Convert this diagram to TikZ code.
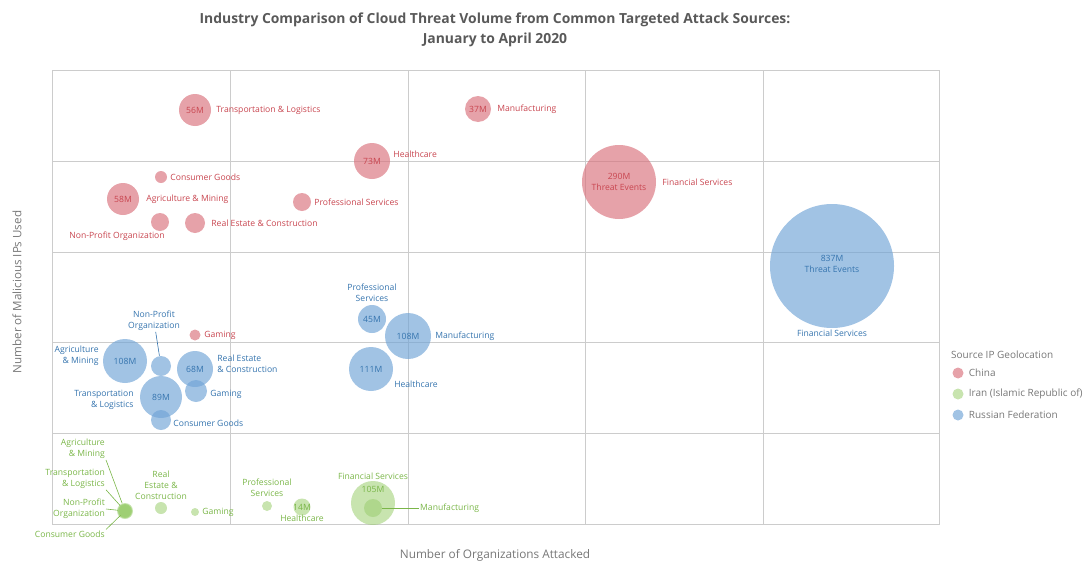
\documentclass[tikz,border=0pt]{standalone}
\usepackage{fontspec}
\setmainfont{Open Sans}
\usetikzlibrary{positioning}

\definecolor{cnfill}{HTML}{D9707B}
\definecolor{cntext}{HTML}{C8454F}
\definecolor{irfill}{HTML}{9ACD6E}
\definecolor{irtext}{HTML}{7AB648}
\definecolor{rufill}{HTML}{6FA3D6}
\definecolor{rutext}{HTML}{3574AE}
\definecolor{gridgray}{HTML}{CCCCCC}
\definecolor{titlegray}{HTML}{595959}
\definecolor{axisgray}{HTML}{777777}

\tikzset{
	bubble/.style={circle, inner sep=0pt, minimum size=#1},
	cnbub/.style={bubble=#1, fill=cnfill, fill opacity=0.65},
	irbub/.style={bubble=#1, fill=irfill, fill opacity=0.55},
	rubub/.style={bubble=#1, fill=rufill, fill opacity=0.65},
	lab/.style={inner sep=1pt, font=\fontsize{8.6}{10.8}\selectfont},
	cnlab/.style={lab, text=cntext, align=left},
	irlab/.style={lab, text=irtext, align=center},
	rulab/.style={lab, text=rutext, align=left},
	leglab/.style={lab, text=axisgray, font=\fontsize{10}{12}\selectfont},
	irline/.style={draw=irtext, line width=0.6pt},
	ruline/.style={draw=rutext, line width=0.6pt},
	gridline/.style={draw=gridgray, line width=0.8pt}
}

\begin{document}
\begin{tikzpicture}[x=1pt, y=-1pt]
	\useasboundingbox (0,0) rectangle (1083,562);

	% title and axes
	\node[font=\fontsize{13.9}{20}\selectfont\bfseries, text=titlegray, align=center] (title) at (495,30)
		{Industry Comparison of Cloud Threat Volume from Common Targeted Attack Sources:\\January to April 2020};
	\node[font=\fontsize{11.8}{14}\selectfont, text=axisgray] (xlab) at (495,555) {Number of Organizations Attacked};
	\node[font=\fontsize{11.6}{14}\selectfont, text=axisgray, rotate=90] (ylab) at (17,292) {Number of Malicious IPs Used};

	% grid
	\draw[gridline] (52,70) rectangle (939,524);
	\draw[gridline] (230,70) -- (230,524);
	\draw[gridline] (408,70) -- (408,524);
	\draw[gridline] (585,70) -- (585,524);
	\draw[gridline] (763,70) -- (763,524);
	\draw[gridline] (52,161) -- (939,161);
	\draw[gridline] (52,252) -- (939,252);
	\draw[gridline] (52,342) -- (939,342);
	\draw[gridline] (52,433) -- (939,433);

	% China
	\node[cnbub=32pt] (cn-trans) at (195,110) {};
	\node[cnbub=26pt] (cn-man) at (478,109) {};
	\node[cnbub=36pt] (cn-hea) at (372,161) {};
	\node[cnbub=12pt] (cn-cons) at (161,177) {};
	\node[cnbub=32pt] (cn-agri) at (123,199) {};
	\node[cnbub=18pt] (cn-prof) at (302,202) {};
	\node[cnbub=18pt] (cn-np) at (160,222) {};
	\node[cnbub=20pt] (cn-re) at (195,223) {};
	\node[cnbub=74pt] (cn-fin) at (619,182) {};
	\node[cnbub=11pt] (cn-gam) at (195,335) {};

	\node[cnlab] at (cn-trans) {56M};
	\node[cnlab] at (cn-man) {37M};
	\node[cnlab] at (cn-hea) {73M};
	\node[cnlab] at (cn-agri) {58M};
	\node[cnlab, align=center] at (cn-fin) {290M\\Threat Events};
	\node[cnlab, right=4pt of cn-trans] (cn-trans-lab) {Transportation \& Logistics};
	\node[cnlab, right=5pt of cn-man] (cn-man-lab) {Manufacturing};
	\node[cnlab, right=2pt of cn-hea, yshift=7pt] (cn-hea-lab) {Healthcare};
	\node[cnlab, right=2pt of cn-cons] (cn-cons-lab) {Consumer Goods};
	\node[cnlab, right=6pt of cn-agri] (cn-agri-lab) {Agriculture \& Mining};
	\node[cnlab, right=2pt of cn-prof] (cn-prof-lab) {Professional Services};
	\node[cnlab] (cn-np-lab) at (117,236) {Non-Profit Organization};
	\node[cnlab, right=5pt of cn-re] (cn-re-lab) {Real Estate \& Construction};
	\node[cnlab, right=5pt of cn-fin] (cn-fin-lab) {Financial Services};
	\node[cnlab, right=2.5pt of cn-gam] (cn-gam-lab) {Gaming};

	% Russian Federation
	\node[rubub=124pt] (ru-fin) at (832,266) {};
	\node[rubub=44pt] (ru-agri) at (125,361) {};
	\node[rubub=20pt] (ru-np) at (161,366) {};
	\node[rubub=36pt] (ru-re) at (195,369) {};
	\node[rubub=22pt] (ru-gam) at (196,391) {};
	\node[rubub=42pt] (ru-trans) at (161,397) {};
	\node[rubub=20pt] (ru-cons) at (161,420) {};
	\node[rubub=28pt] (ru-prof) at (372,319) {};
	\node[rubub=46pt] (ru-man) at (408,336) {};
	\node[rubub=44pt] (ru-hea) at (371,369) {};

	\node[rulab, align=center] at (832,264) {837M\\Threat Events};
	\node[rulab] at (ru-agri) {108M};
	\node[rulab] at (ru-re) {68M};
	\node[rulab] at (ru-trans) {89M};
	\node[rulab] at (ru-prof) {45M};
	\node[rulab] at (ru-man) {108M};
	\node[rulab] at (ru-hea) {111M};
	\node[rulab, below=1pt of ru-fin] (ru-fin-lab) {Financial Services};
	\node[rulab, align=right, left=3pt of ru-agri, yshift=5pt] (ru-agri-lab) {Agriculture\\\& Mining};
	\node[rulab, align=center] (ru-np-lab) at (154,321) {Non-Profit\\Organization};
	\node[rulab, right=3pt of ru-re, yshift=5pt] (ru-re-lab) {Real Estate\\\& Construction};
	\node[rulab, right=2pt of ru-gam, yshift=-3pt] (ru-gam-lab) {Gaming};
	\node[rulab, align=right, left=5pt of ru-trans, yshift=-2.5pt] (ru-trans-lab) {Transportation\\\& Logistics};
	\node[rulab, right=1pt of ru-cons, yshift=-3pt] (ru-cons-lab) {Consumer Goods};
	\node[rulab, align=center, above=2pt of ru-prof] (ru-prof-lab) {Professional\\Services};
	\node[rulab, right=3pt of ru-man] (ru-man-lab) {Manufacturing};
	\node[rulab] (ru-hea-lab) at (416,384) {Healthcare};

	\draw[ruline] (ru-np-lab) -- (ru-np);

	% Iran
	\node[irbub=16pt] (ir-agri) at (125,511) {};
	\node[irbub=14pt] (ir-trans) at (125,511) {};
	\node[irbub=14pt] (ir-np) at (125,511) {};
	\node[irbub=12pt] (ir-cons) at (125,511) {};
	\node[irbub=12pt] (ir-re) at (161,508) {};
	\node[irbub=8pt] (ir-gam) at (195,512) {};
	\node[irbub=10pt] (ir-prof) at (267,506) {};
	\node[irbub=17pt] (ir-hea) at (302,507) {};
	\node[irbub=44pt] (ir-fin) at (373,503) {};
	\node[irbub=18pt] (ir-man) at (373,508) {};

	\node[irlab] at (ir-hea) {14M};
	\node[irlab] at (373,489) {105M};
	\node[irlab, align=right, anchor=east] (ir-agri-lab) at (106,449) {Agriculture\\\& Mining};
	\node[irlab, align=right, anchor=east] (ir-trans-lab) at (106,479) {Transportation\\\& Logistics};
	\node[irlab, align=right, anchor=east] (ir-np-lab) at (106,509) {Non-Profit\\Organization};
	\node[irlab, anchor=east] (ir-cons-lab) at (106,534) {Consumer Goods};
	\node[irlab, above=1pt of ir-re] (ir-re-lab) {Real\\Estate \&\\Construction};
	\node[irlab, right=2pt of ir-gam] (ir-gam-lab) {Gaming};
	\node[irlab, above=3pt of ir-prof] (ir-prof-lab) {Professional\\Services};
	\node[irlab, below=-2pt of ir-hea] (ir-hea-lab) {Healthcare};
	\node[irlab, above=0pt of ir-fin] (ir-fin-lab) {Financial Services};
	\node[irlab, anchor=west] (ir-man-lab) at (419,508) {Manufacturing};

	\draw[irline] (ir-agri-lab.south east) -- (ir-agri);
	\draw[irline] (ir-trans-lab.south east) -- (ir-trans);
	\draw[irline] (ir-np-lab.east) -- (ir-np);
	\draw[irline] (ir-cons-lab.north east) -- (ir-cons);
	\draw[irline] (ir-man) -- (ir-man-lab);

	% legend
	\node[leglab, anchor=west] (leg-title) at (950,355) {Source IP Geolocation};
	\node[cnbub=11pt] (leg-cn) at (958,373) {};
	\node[irbub=11pt] (leg-ir) at (958,394) {};
	\node[rubub=11pt] (leg-ru) at (958,415) {};
	\node[leglab, right=4pt of leg-cn] (leg-cn-lab) {China};
	\node[leglab, right=4pt of leg-ir] (leg-ir-lab) {Iran (Islamic Republic of)};
	\node[leglab, right=4pt of leg-ru] (leg-ru-lab) {Russian Federation};
\end{tikzpicture}
\end{document}
